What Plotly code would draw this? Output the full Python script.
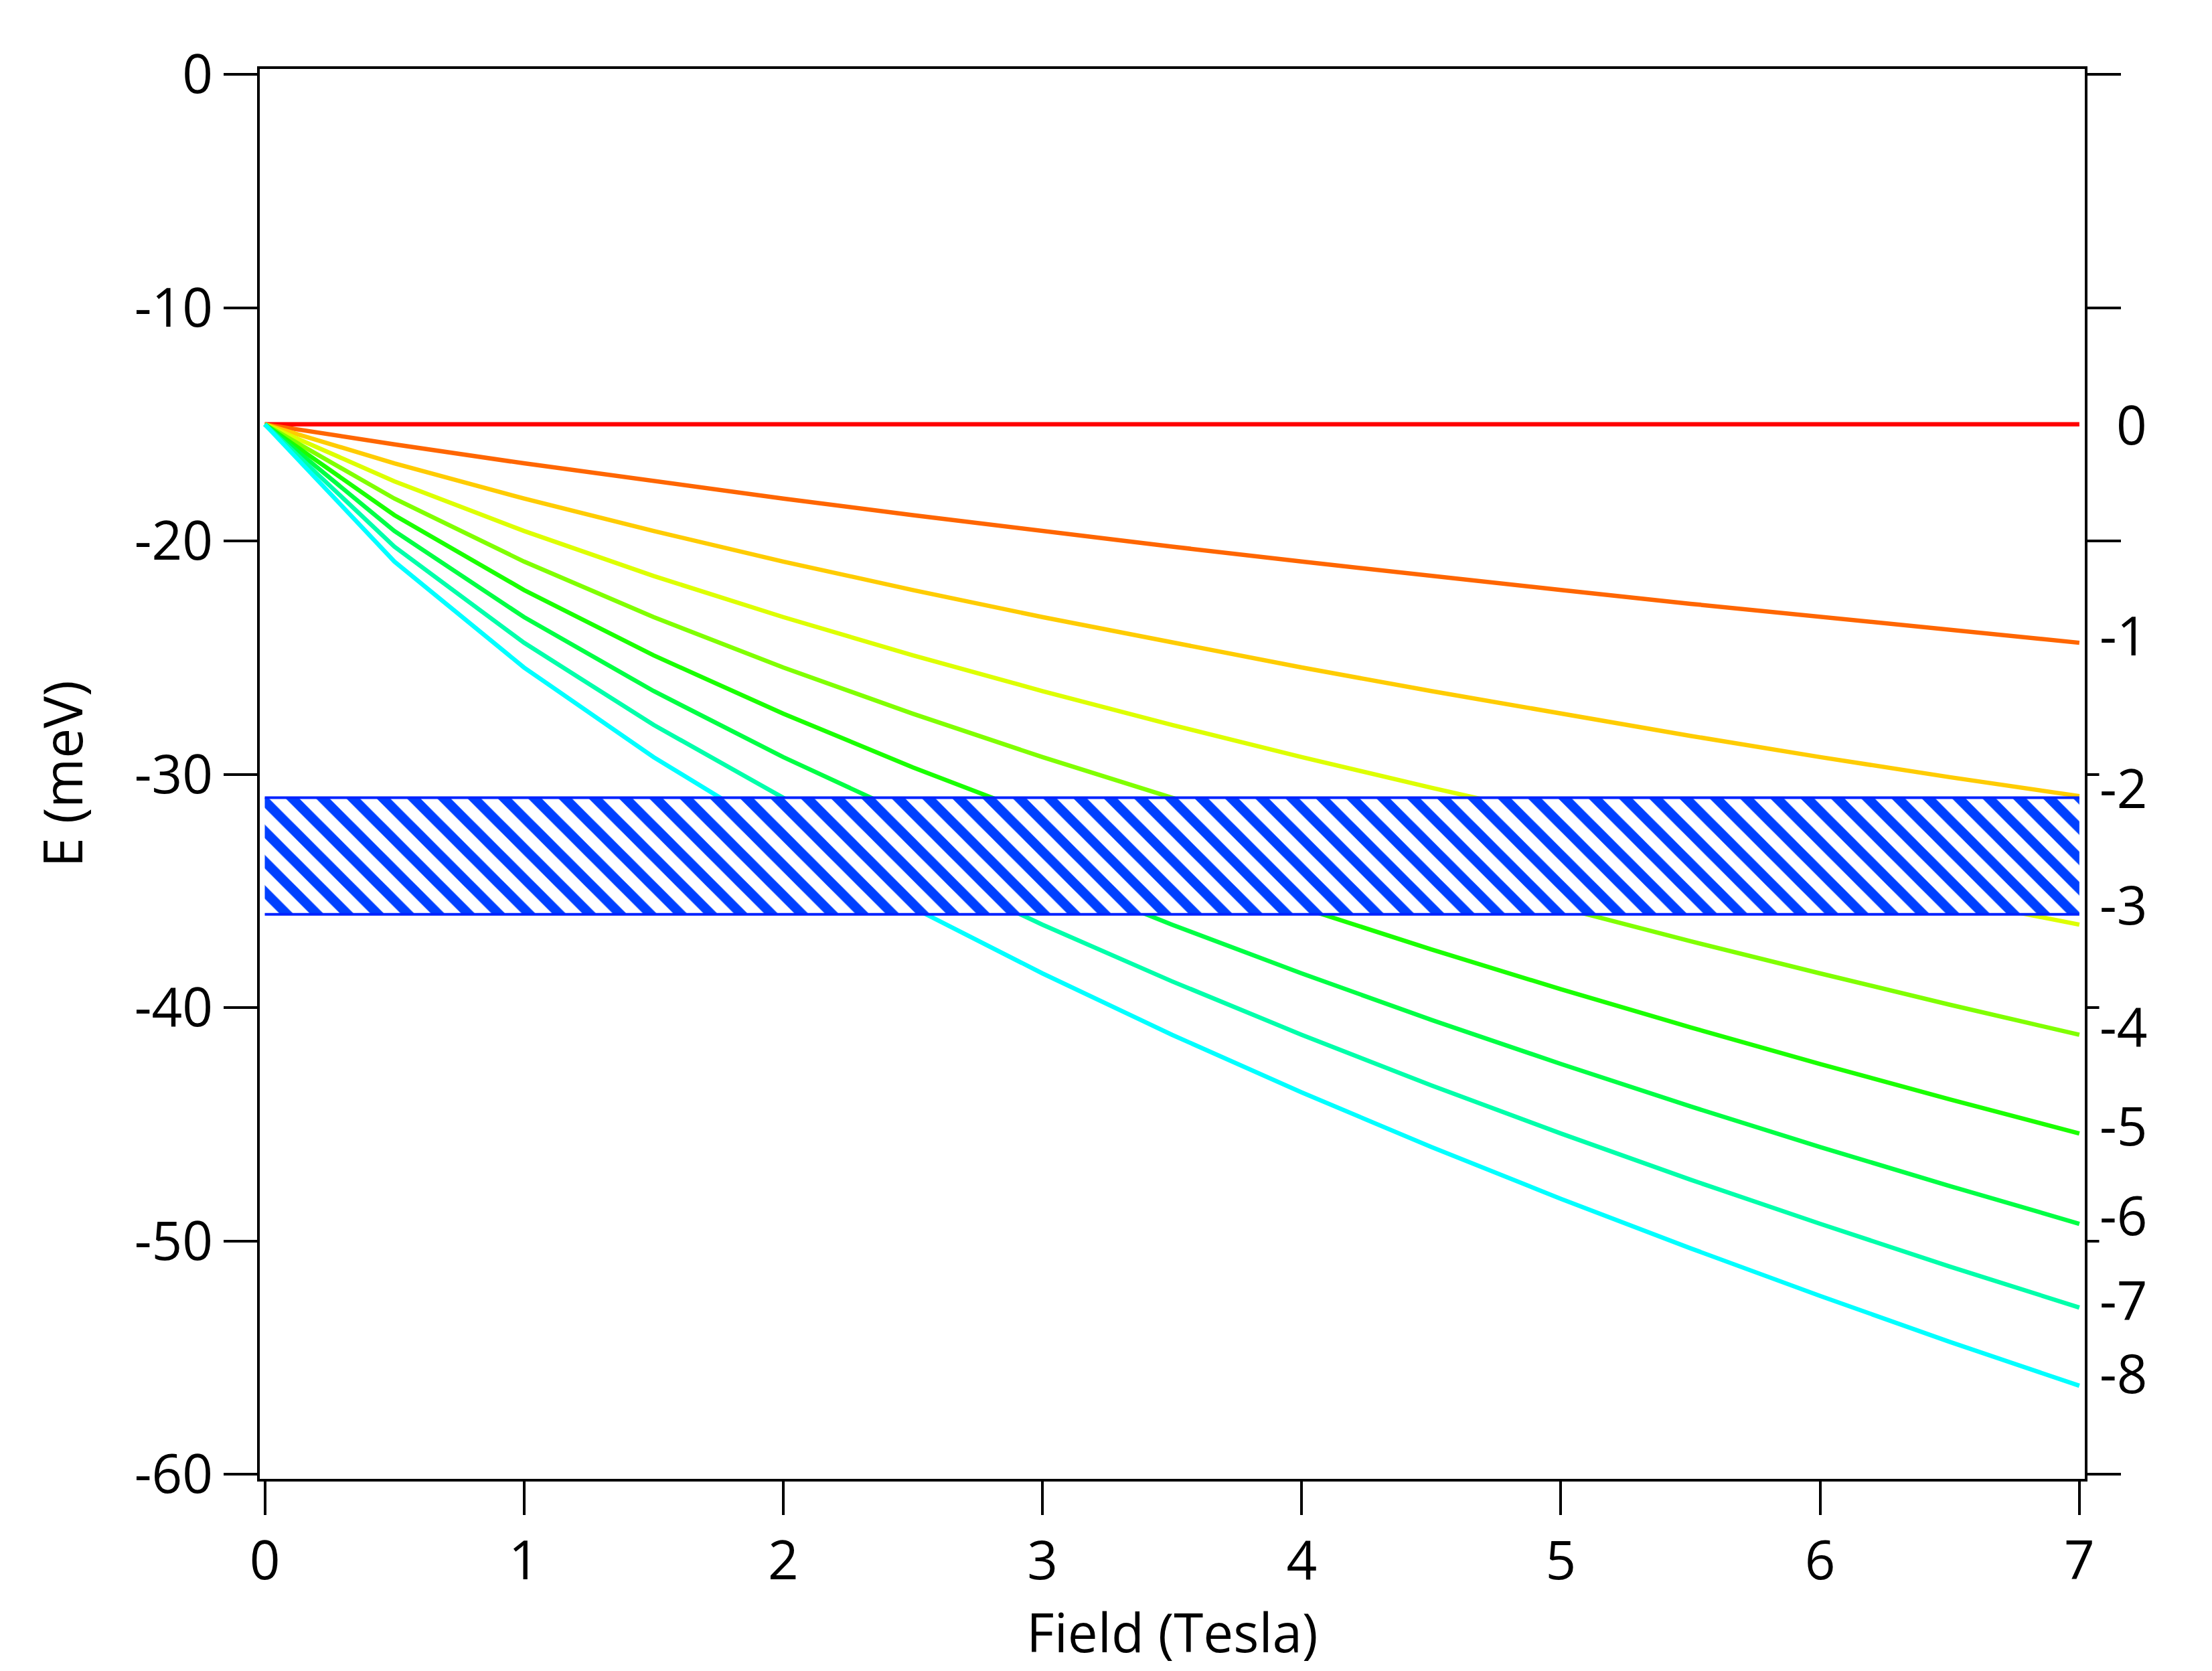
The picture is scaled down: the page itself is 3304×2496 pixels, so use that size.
import plotly.graph_objects as go

# ---- data ----
field_T = [0, 0.5, 1.0, 1.5, 2.0, 2.5, 3.0, 3.5, 4.0, 4.5, 5.0, 5.5, 6.0, 6.5, 7.0]

E_n0 = [-15, -15, -15, -15, -15, -15, -15, -15, -15, -15, -15, -15, -15, -15, -15]
E_n1 = [-15, -15.86, -16.67, -17.44, -18.18, -18.89, -19.57, -20.24, -20.88, -21.50, -22.10, -22.69, -23.26, -23.82, -24.36]
E_n2 = [-15, -16.67, -18.18, -19.57, -20.88, -22.10, -23.26, -24.36, -25.42, -26.43, -27.40, -28.35, -29.26, -30.12, -30.93]
E_n3 = [-15, -17.44, -19.57, -21.50, -23.26, -24.90, -26.43, -27.88, -29.26, -30.57, -31.83, -33.04, -34.21, -35.34, -36.44]
E_n4 = [-15, -18.18, -20.88, -23.26, -25.42, -27.40, -29.26, -31.00, -32.65, -34.21, -35.71, -37.15, -38.53, -39.87, -41.16]
E_n5 = [-15, -18.89, -22.10, -24.90, -27.40, -29.70, -31.83, -33.83, -35.71, -37.50, -39.21, -40.84, -42.41, -43.93, -45.39]
E_n6 = [-15, -19.57, -23.26, -26.43, -29.26, -31.83, -34.21, -36.44, -38.53, -40.52, -42.41, -44.23, -45.97, -47.64, -49.26]
E_n7 = [-15, -20.24, -24.36, -27.88, -31.00, -33.83, -36.44, -38.87, -41.16, -43.33, -45.39, -47.37, -49.26, -51.09, -52.85]
E_n8 = [-15, -20.88, -25.42, -29.26, -32.65, -35.71, -38.53, -41.16, -43.63, -45.97, -48.19, -50.31, -52.35, -54.32, -56.20]

level_labels = ["0", "-1", "-2", "-3", "-4", "-5", "-6", "-7", "-8"]
label_E = [-15.31, -24.35, -30.87, -35.87, -41.1, -45.35, -49.19, -52.83, -55.95]
line_colors = ["#ff0000", "#ff6600", "#ffcc00", "#ddff00", "#80ff00",
               "#1aff00", "#00ff44", "#00ffaa", "#00ffff"]

band_x = [0, 7]
band_top = [-31, -31]
band_bottom = [-36, -36]

x_ticks = [0, 1, 2, 3, 4, 5, 6, 7]
x_ticktext = ["0", "1", "2", "3", "4", "5", "6", "7"]
y_ticks = [0, -10, -20, -30, -40, -50, -60]
y_ticktext = ["0", "-10", "-20", "-30", "-40", "-50", "-60"]

levels = [E_n0, E_n1, E_n2, E_n3, E_n4, E_n5, E_n6, E_n7, E_n8]

FONT = "Open Sans"
FS = 80

fig = go.Figure()
for vals, col, lab in zip(levels, line_colors, level_labels):
    fig.add_trace(go.Scatter(x=field_T, y=vals, mode="lines", name=lab,
                             line=dict(color=col, width=6.5), showlegend=False))

fig.add_trace(go.Scatter(x=band_x, y=band_bottom, mode="lines",
                         line=dict(color="#0022ff", width=4), showlegend=False))
fig.add_trace(go.Scatter(x=band_x, y=band_top, mode="lines", fill="tonexty",
                         fillcolor="white",
                         fillpattern=dict(shape="\\", fgcolor="#0040ff", bgcolor="white",
                                          size=32, solidity=0.45, fgopacity=1),
                         line=dict(color="#0022ff", width=4), showlegend=False))

for lab, ey in zip(level_labels, label_E):
    fig.add_annotation(x=1, xref="paper", y=ey, yref="y", text=lab,
                       xanchor="right", yanchor="middle", xshift=94, yshift=12,
                       showarrow=False, bgcolor="white", borderpad=0,
                       font=dict(family=FONT, size=FS, color="black"))

axis_common = dict(showline=True, linecolor="black", linewidth=4,
                   ticks="outside", ticklen=50, tickwidth=4, tickcolor="black",
                   showgrid=False, zeroline=False,
                   tickfont=dict(family=FONT, size=FS, color="black"))

fig.update_xaxes(range=[-0.0194, 7.021], tickvals=x_ticks, ticktext=x_ticktext,
                 mirror=True,
                 title=dict(text="Field (Tesla)", font=dict(family=FONT, size=FS, color="black"),
                            standoff=0),
                 **axis_common)
fig.update_yaxes(range=[-60.19, 0.23], tickvals=y_ticks, ticktext=y_ticktext,
                 mirror="ticks",
                 title=dict(text="E (meV)", font=dict(family=FONT, size=FS, color="black"),
                            standoff=52),
                 **axis_common)

fig.update_layout(width=3304, height=2496,
                  margin=dict(l=380, r=198, t=95, b=295, autoexpand=False),
                  paper_bgcolor="white", plot_bgcolor="white",
                  font=dict(family=FONT, size=FS, color="black"))

fig.write_html("out.html")
